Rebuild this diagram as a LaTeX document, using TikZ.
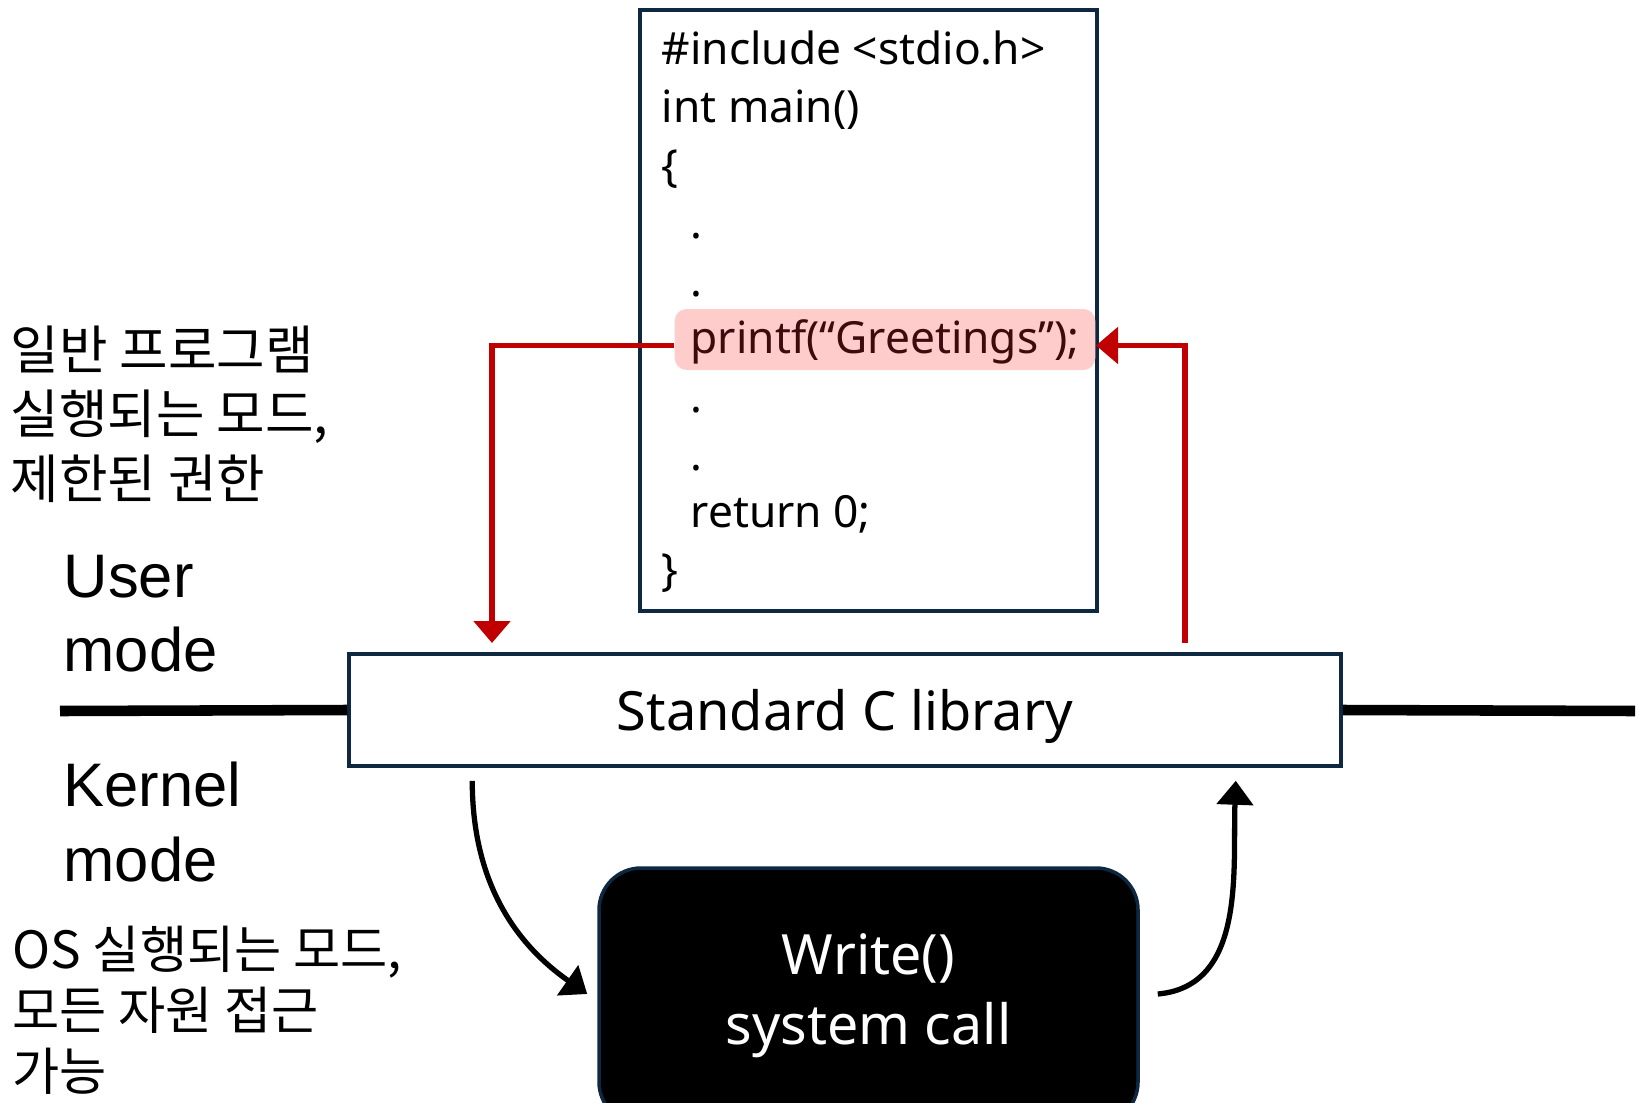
\documentclass[tikz,border=0pt]{standalone}
\usepackage{fontspec}
\setmainfont{Noto Sans}
\newfontfamily\arialfont{Liberation Sans}
\newfontfamily\krfont{Noto Sans CJK KR}
\usetikzlibrary{arrows.meta}
\definecolor{navy}{HTML}{0E2841}
\definecolor{darkred}{HTML}{C00000}
\definecolor{pinkhl}{HTML}{FFCCCC}
\definecolor{maroon}{HTML}{3D0B0B}

\begin{document}
\begin{tikzpicture}[
	codeline/.style={anchor=base west,inner sep=0pt,font=\fontsize{12.6}{16}\selectfont},
	modetext/.style={anchor=north west,inner sep=0pt,align=left,font=\arialfont\fontsize{17.5}{21.3}\selectfont},
	callarrow/.style={line width=1.5pt,-{Triangle[width=0.36cm,length=0.24cm]}},
	retarrow/.style={darkred,line width=1.5pt,-{Triangle[width=0.36cm,length=0.22cm]}}]
	\useasboundingbox (0,0) rectangle (16.4,-11.03);
	% Nodes
	\node[draw=navy,line width=1pt,minimum width=4.57cm,minimum height=6.01cm,inner sep=0pt] (code) at (8.685,-3.105) {};
	\node[codeline] (l1) at (6.61,-0.65) {\#include <stdio.h>};
	\node[codeline] (l2) at (6.61,-1.23) {int main()};
	\node[codeline] (l3) at (6.61,-1.81) {\{};
	\node[codeline] (l4) at (6.90,-2.38) {.};
	\node[codeline] (l5) at (6.90,-2.96) {.};
	\node[codeline,fill=pinkhl,rounded corners=0.12cm,inner xsep=0.16cm,inner ysep=0.12cm,
		text height=0.33cm,text depth=0.04cm,text=maroon] (printf) at (6.74,-3.54) {printf(“Greetings”);};
	\node[codeline] (l7) at (6.90,-4.12) {.};
	\node[codeline] (l8) at (6.90,-4.70) {.};
	\node[codeline] (l9) at (6.90,-5.27) {return 0;};
	\node[codeline] (l10) at (6.61,-5.85) {\}};
	\node[draw=navy,line width=1pt,fill=white,minimum width=9.92cm,minimum height=1.12cm,text depth=0pt,
		font=\fontsize{15.4}{18}\selectfont] (lib) at (8.45,-7.10) {Standard C library};
	\node[fill=black,draw=navy,line width=1pt,rounded corners=0.42cm,minimum width=5.39cm,minimum height=2.56cm,
		text=white,align=center,font=\fontsize{15.8}{20}\selectfont] (sys) at (8.685,-9.96) {Write()\\system call};
	\node[modetext] (user) at (0.63,-5.54) {User\\mode};
	\node[modetext] (kernel) at (0.63,-7.61) {Kernel\\mode};
	\node[anchor=north west,inner sep=0pt,align=left,font=\krfont\fontsize{15}{18.4}\selectfont] (usernote) at (0.10,-3.25)
		{일반 프로그램\\실행되는 모드,\\제한된 권한};
	\node[anchor=north west,inner sep=0pt,align=left,font=\krfont\fontsize{14.6}{17.4}\selectfont] (kernelnote) at (0.12,-9.25)
		{OS 실행되는 모드,\\모든 자원 접근\\가능};
	\coordinate (lineL) at (0.60,-7.11);
	\coordinate (lineR) at (16.35,-7.11);
	\coordinate (libin) at (4.92,-6.43);
	\coordinate (libout) at (11.85,-6.43);
	% Edges
	\draw[line width=3pt] (lineL) -- (lib.west);
	\draw[line width=3pt] (lib.east) -- (lineR);
	\draw[retarrow] ([yshift=-0.06cm]printf.west) -| (libin);
	\draw[retarrow] (libout) |- ([yshift=-0.06cm]printf.east);
	\draw[callarrow] ([shift={(1.25,-0.13)}]lib.south west) to[out=-90,in=145] ([xshift=-0.1cm,yshift=0.02cm]sys.west);
	\draw[callarrow] ([xshift=0.18cm,yshift=0.02cm]sys.east) to[out=5,in=-92] ([shift={(-1.07,-0.13)}]lib.south east);
\end{tikzpicture}
\end{document}
